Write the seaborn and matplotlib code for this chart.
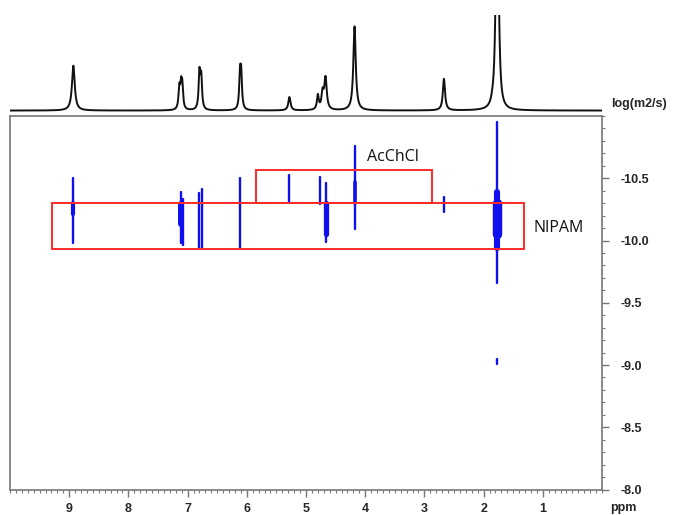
import numpy as np
import pandas as pd
import matplotlib
matplotlib.use("Agg")
import matplotlib.pyplot as plt
from matplotlib.patches import Rectangle
from matplotlib.ticker import MultipleLocator, FixedLocator
import seaborn as sns

# 1D 1H projection: peak positions (ppm), heights (relative), half-widths (ppm)
peak_ppm = [8.93, 7.14, 7.11, 7.09, 6.80, 6.77, 6.115, 6.095, 5.28, 4.80, 4.72, 4.67, 4.18, 2.67, 1.85, 1.785, 1.755]
peak_height = [0.47, 0.22, 0.22, 0.22, 0.38, 0.33, 0.34, 0.34, 0.14, 0.15, 0.17, 0.33, 0.88, 0.33, 0.03, 1.2, 1.2]
peak_hwhm = [0.028, 0.016, 0.016, 0.016, 0.016, 0.016, 0.016, 0.016, 0.022, 0.018, 0.022, 0.024, 0.024, 0.022, 0.03, 0.024, 0.024]

# DOSY cross peaks: chemical shift and log(D) extent of each trace
streak_ppm = [8.93, 7.11, 7.08, 6.80, 6.75, 6.11, 5.28, 4.77, 4.67, 4.18, 2.67, 1.77, 1.77]
streak_logd_top = [-10.50, -10.39, -10.33, -10.38, -10.41, -10.50, -10.53, -10.51, -10.46, -10.76, -10.35, -10.95, -9.05]
streak_logd_bottom = [-9.98, -9.98, -9.96, -9.94, -9.94, -9.93, -10.30, -10.29, -9.99, -10.09, -10.23, -9.66, -9.01]

# dense contour cores of the strongest cross peaks
core_ppm = [8.93, 7.11, 4.67, 4.18, 1.77, 1.77]
core_logd_top = [-10.30, -10.29, -10.30, -10.47, -10.39, -10.30]
core_logd_bottom = [-10.21, -10.13, -10.05, -10.30, -9.94, -10.05]
core_lw = [3.0, 4.3, 3.8, 2.6, 4.4, 6.8]

# component regions: (ppm high, ppm low, logD top, logD bottom)
box_names = ["AcChCl", "NIPAM"]
box_ppm_left = [5.84, 9.29]
box_ppm_right = [2.88, 1.31]
box_logd_top = [-10.57, -10.30]
box_logd_bottom = [-10.30, -9.93]
label_ppm = [3.53, 0.73]
label_logd = [-10.67, -10.10]

x_ticks = [1, 2, 3, 4, 5, 6, 7, 8, 9]
y_ticks = [-10.5, -10.0, -9.5, -9.0, -8.5, -8.0]

sns.set_theme(style="white")
plt.rcParams["font.family"] = ["Liberation Sans", "DejaVu Sans"]
plt.rcParams["axes.unicode_minus"] = False

fig = plt.figure(figsize=(6.77, 5.15), dpi=100)
W, H = 677.0, 515.0
left_px, right_px = 10.0, 602.0
top_px, bottom_px = 116.0, 489.5

ax = fig.add_axes([left_px / W, 1 - bottom_px / H, (right_px - left_px) / W, (bottom_px - top_px) / H])
ax_spec = fig.add_axes([left_px / W, 1 - 112 / H, (right_px - left_px) / W, 97 / H])

# ---- projection spectrum ----
grid = np.linspace(10, 0, 8000)
spec = np.zeros_like(grid)
for p, h, w in zip(peak_ppm, peak_height, peak_hwhm):
    spec += h * w**2 / ((grid - p) ** 2 + w**2)
spec_df = pd.DataFrame({"ppm": grid, "intensity": spec})
sns.lineplot(data=spec_df, x="ppm", y="intensity", ax=ax_spec, color="#111111",
             linewidth=1.4, estimator=None, sort=False)
ax_spec.set_xlim(10, 0)
ax_spec.set_ylim(-0.015, 1.0)
ax_spec.axis("off")

# ---- DOSY traces ----
rows = []
for i, (p, t, b) in enumerate(zip(streak_ppm, streak_logd_top, streak_logd_bottom)):
    rows.append({"ppm": p, "logD": t, "trace": i})
    rows.append({"ppm": p, "logD": b, "trace": i})
streaks = pd.DataFrame(rows)
sns.lineplot(data=streaks, x="ppm", y="logD", units="trace", estimator=None, sort=False,
             color="#1010ee", linewidth=1.7, ax=ax, legend=False)

for p, t, b, lw in zip(core_ppm, core_logd_top, core_logd_bottom, core_lw):
    core = pd.DataFrame({"ppm": [p, p], "logD": [t, b]})
    sns.lineplot(data=core, x="ppm", y="logD", estimator=None, sort=False,
                 color="#1010ee", linewidth=lw, ax=ax, legend=False,
                 solid_capstyle="round")

for name, x0, x1, y0, y1, lx, ly in zip(box_names, box_ppm_left, box_ppm_right,
                                         box_logd_top, box_logd_bottom, label_ppm, label_logd):
    ax.add_patch(Rectangle((x1, y0), x0 - x1, y1 - y0, fill=False,
                           edgecolor="#ff2a2a", linewidth=1.4, zorder=3))
    ax.text(lx, ly, name, ha="center", va="center", fontsize=11.5,
            family=["Open Sans", "DejaVu Sans"], color="#111111")

ax.set_xlim(10, 0)
ax.set_ylim(-8, -11)
ax.set_xlabel("")
ax.set_ylabel("")
ax.xaxis.set_major_locator(FixedLocator(x_ticks))
ax.xaxis.set_minor_locator(MultipleLocator(0.1))
ax.yaxis.set_major_locator(FixedLocator(y_ticks))
ax.yaxis.set_minor_locator(MultipleLocator(0.1))
ax.set_xticklabels([str(v) for v in x_ticks])
ax.set_yticklabels([f"{v:.1f}" for v in y_ticks])
ax.yaxis.tick_right()
ax.tick_params(axis="both", which="major", direction="out", length=5, width=1.0,
               color="#777777", labelsize=9, pad=3)
ax.tick_params(axis="both", which="minor", direction="out", length=2.5, width=0.8,
               color="#777777")
ax.tick_params(axis="y", which="both", left=False, right=True, labelleft=False, labelright=True, pad=8)
ax.tick_params(axis="x", which="both", bottom=True, top=False, pad=5)
for lab in ax.get_xticklabels() + ax.get_yticklabels():
    lab.set_fontweight("bold")
for s in ax.spines.values():
    s.set_color("#808080")
    s.set_linewidth(1.3)

fig.text(611 / W, 1 - 104 / H, "log(m2/s)", ha="left", va="center", fontsize=9, fontweight="bold")
fig.text(610 / W, 1 - 508 / H, "ppm", ha="left", va="center", fontsize=9, fontweight="bold")

fig.savefig("out.png", dpi=100, facecolor="white")
